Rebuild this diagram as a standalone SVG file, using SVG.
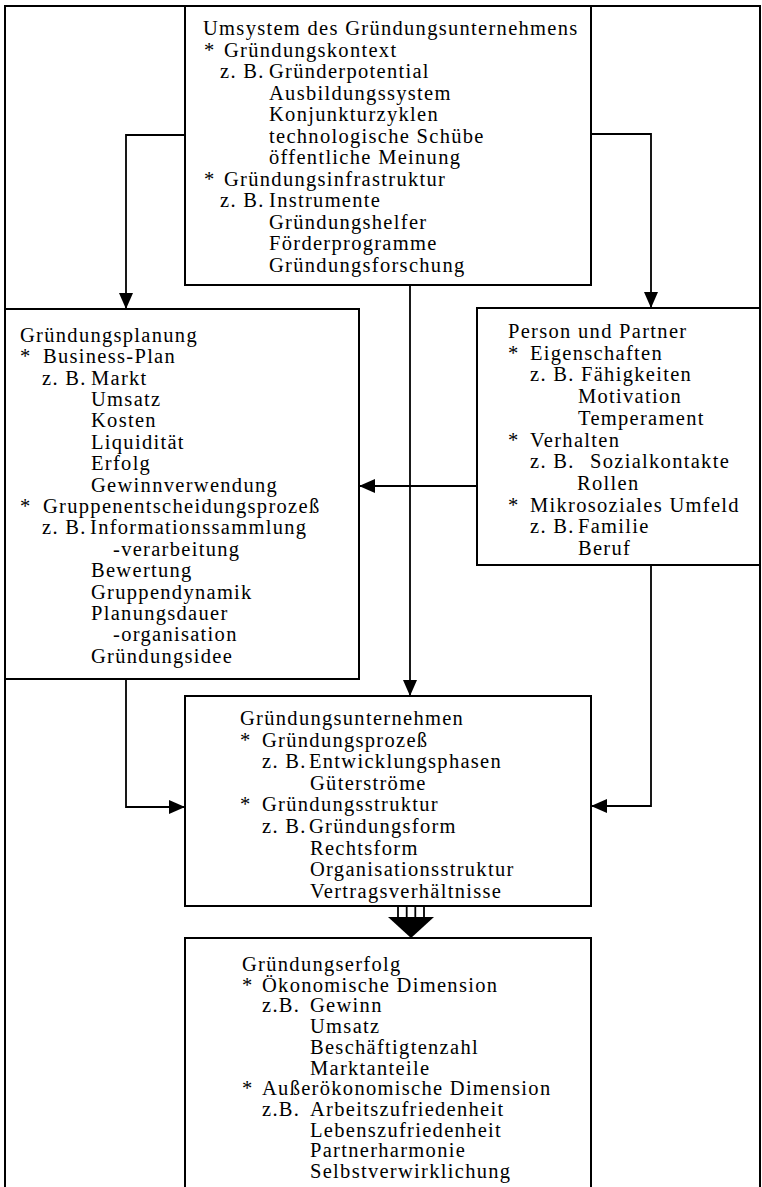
<svg xmlns="http://www.w3.org/2000/svg" width="762" height="1187" viewBox="0 0 762 1187">
<style>
  .box { fill: none; stroke: #000; stroke-width: 2; }
  .con { fill: none; stroke: #000; stroke-width: 1.8; }
  text { font-family: "Liberation Serif", "Times New Roman", serif; font-size: 20.5px; letter-spacing: 1.3px; fill: #000; }
</style>
<defs>
  <marker id="arr" markerUnits="userSpaceOnUse" markerWidth="16" markerHeight="14" refX="16" refY="7" orient="auto">
    <path d="M0,0 L16,7 L0,14 z" fill="#000"/>
  </marker>
</defs>
<rect width="762" height="1187" fill="#fff"/>
<g id="frame">
  <rect class="box" x="5" y="6" width="755" height="1195"/>
</g>
<g id="connectors">
  <path class="con" d="M185,135 H126 V309" marker-end="url(#arr)"/>
  <path class="con" d="M591,134 H651 V308" marker-end="url(#arr)"/>
  <path class="con" d="M410,285 V696" marker-end="url(#arr)"/>
  <path class="con" d="M477,486 H359" marker-end="url(#arr)"/>
  <path class="con" d="M126,679 V807 H185" marker-end="url(#arr)"/>
  <path class="con" d="M651,565 V806 H591" marker-end="url(#arr)"/>
  <g id="triple-arrow">
    <path class="con" d="M398,906 V917 M406.7,906 V917 M415.3,906 V917 M424,906 V917"/>
    <path d="M388,917 L434,917 L411,938 z" fill="#000"/>
  </g>
</g>
<g id="umsystem">
  <rect class="box" x="185" y="6" width="406" height="279"/>
  <text x="203" y="35">Umsystem des Gründungsunternehmens</text>
  <text x="204" y="56.5">*</text><text x="224" y="56.5">Gründungskontext</text>
  <text x="220" y="78">z. B.</text><text x="269" y="78">Gründerpotential</text>
  <text x="269" y="99.5">Ausbildungssystem</text>
  <text x="269" y="121">Konjunkturzyklen</text>
  <text x="269" y="142.5">technologische Schübe</text>
  <text x="269" y="164">öffentliche Meinung</text>
  <text x="204" y="185.5">*</text><text x="224" y="185.5">Gründungsinfrastruktur</text>
  <text x="220" y="207">z. B.</text><text x="269" y="207">Instrumente</text>
  <text x="269" y="228.5">Gründungshelfer</text>
  <text x="269" y="250">Förderprogramme</text>
  <text x="269" y="271.5">Gründungsforschung</text>
</g>
<g id="planung">
  <rect class="box" x="5" y="309" width="354" height="370"/>
  <text x="20" y="341.7">Gründungsplanung</text>
  <text x="20" y="363.1">*</text><text x="43" y="363.1">Business-Plan</text>
  <text x="42" y="384.5">z. B.</text><text x="91" y="384.5">Markt</text>
  <text x="91" y="405.9">Umsatz</text>
  <text x="91" y="427.3">Kosten</text>
  <text x="91" y="448.7">Liquidität</text>
  <text x="91" y="470.1">Erfolg</text>
  <text x="91" y="491.5">Gewinnverwendung</text>
  <text x="20" y="512.9">*</text><text x="43" y="512.9">Gruppenentscheidungsprozeß</text>
  <text x="42" y="534.3">z. B.</text><text x="90" y="534.3">Informationssammlung</text>
  <text x="113" y="555.7">-verarbeitung</text>
  <text x="91" y="577.1">Bewertung</text>
  <text x="91" y="598.5">Gruppendynamik</text>
  <text x="91" y="619.9">Planungsdauer</text>
  <text x="113" y="641.3">-organisation</text>
  <text x="91" y="662.7">Gründungsidee</text>
</g>
<g id="person">
  <rect class="box" x="477" y="308" width="283" height="257"/>
  <text x="508" y="338">Person und Partner</text>
  <text x="508" y="359.7">*</text><text x="530" y="359.7">Eigenschaften</text>
  <text x="530" y="381.4">z. B.</text><text x="581" y="381.4">Fähigkeiten</text>
  <text x="578" y="403.1">Motivation</text>
  <text x="578" y="424.8">Temperament</text>
  <text x="508" y="446.5">*</text><text x="530" y="446.5">Verhalten</text>
  <text x="530" y="468.2">z. B.</text><text x="590" y="468.2">Sozialkontakte</text>
  <text x="577" y="489.9">Rollen</text>
  <text x="508" y="511.6">*</text><text x="530" y="511.6">Mikrosoziales Umfeld</text>
  <text x="530" y="533.3">z. B.</text><text x="578" y="533.3">Familie</text>
  <text x="578" y="555">Beruf</text>
</g>
<g id="unternehmen">
  <rect class="box" x="185" y="696" width="406" height="210"/>
  <text x="240" y="725">Gründungsunternehmen</text>
  <text x="240" y="746.6">*</text><text x="262" y="746.6">Gründungsprozeß</text>
  <text x="262" y="768.2">z. B.</text><text x="309" y="768.2">Entwicklungsphasen</text>
  <text x="310" y="789.8">Güterströme</text>
  <text x="240" y="811.4">*</text><text x="262" y="811.4">Gründungsstruktur</text>
  <text x="262" y="833">z. B.</text><text x="309" y="833">Gründungsform</text>
  <text x="310" y="854.6">Rechtsform</text>
  <text x="310" y="876.2">Organisationsstruktur</text>
  <text x="310" y="897.8">Vertragsverhältnisse</text>
</g>
<g id="erfolg">
  <rect class="box" x="185" y="938" width="406" height="260"/>
  <text x="242" y="971">Gründungserfolg</text>
  <text x="242" y="991.7">*</text><text x="262" y="991.7">Ökonomische Dimension</text>
  <text x="262" y="1012.4">z.B.</text><text x="310" y="1012.4">Gewinn</text>
  <text x="310" y="1033.1">Umsatz</text>
  <text x="310" y="1053.8">Beschäftigtenzahl</text>
  <text x="310" y="1074.5">Marktanteile</text>
  <text x="242" y="1095.2">*</text><text x="262" y="1095.2">Außerökonomische Dimension</text>
  <text x="262" y="1115.9">z.B.</text><text x="310" y="1115.9">Arbeitszufriedenheit</text>
  <text x="310" y="1136.6">Lebenszufriedenheit</text>
  <text x="310" y="1157.3">Partnerharmonie</text>
  <text x="310" y="1178">Selbstverwirklichung</text>
</g>
</svg>
